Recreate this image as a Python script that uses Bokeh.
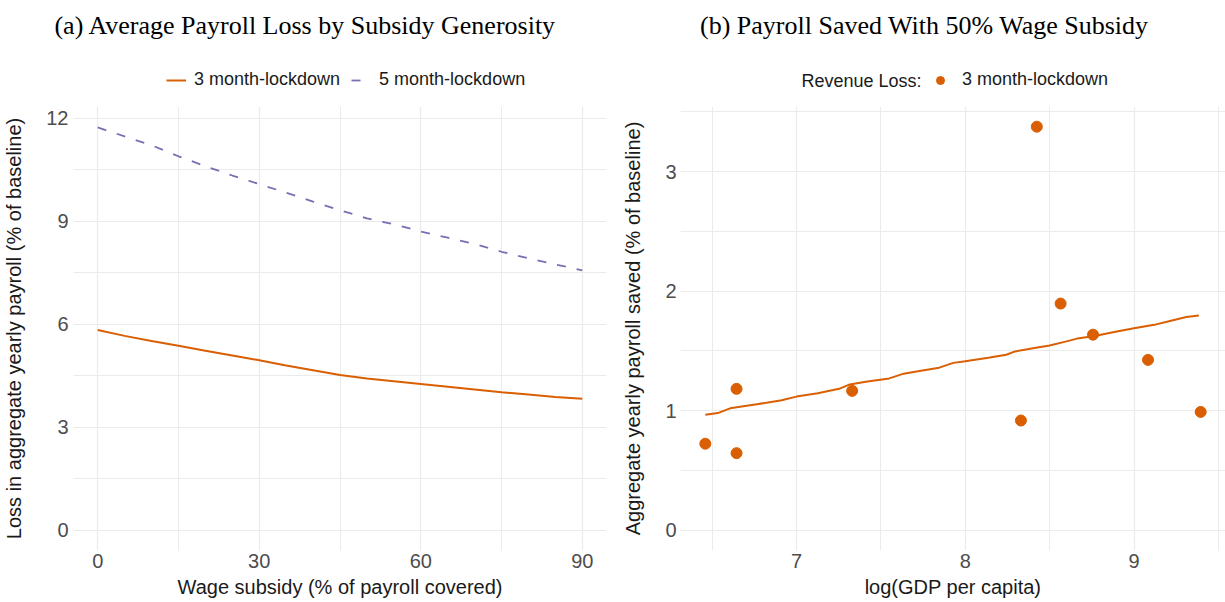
from bokeh.plotting import figure
from bokeh.layouts import row, column
from bokeh.models import FixedTicker, Legend, LegendItem, Range1d, Label
from bokeh.embed import file_html
from bokeh.resources import INLINE

# ---- Panel (a) data ----
subsidy = [0, 5, 10, 15, 20, 25, 30, 35, 40, 45, 50, 55, 60, 65, 70, 75, 80, 85, 90]
loss_3m = [5.83, 5.66, 5.51, 5.375, 5.23, 5.09, 4.95, 4.80, 4.66, 4.52, 4.42, 4.34,
           4.26, 4.18, 4.10, 4.02, 3.95, 3.88, 3.83]
loss_5m = [11.73, 11.47, 11.21, 10.89, 10.60, 10.33, 10.08, 9.83, 9.57, 9.32, 9.08, 8.91,
           8.70, 8.52, 8.34, 8.11, 7.92, 7.74, 7.57]
a_xticks = [0, 30, 60, 90]
a_xminor = [15, 45, 75]
a_yticks = [0, 3, 6, 9, 12]
a_yminor = [1.5, 4.5, 7.5, 10.5]

# ---- Panel (b) data ----
gdp_pts = [6.46, 6.645, 6.645, 7.33, 8.33, 8.424, 8.565, 8.757, 9.083, 9.395]
saved_pts = [0.724, 1.183, 0.645, 1.166, 0.918, 3.375, 1.896, 1.636, 1.425, 0.99]
gdp_line = [6.46, 6.534, 6.607, 6.765, 6.913, 7.0, 7.126, 7.253, 7.316, 7.42, 7.55, 7.635,
            7.72, 7.846, 7.93, 8.0, 8.137, 8.243, 8.296, 8.41, 8.5, 8.60, 8.663, 8.768,
            8.89, 9.0, 9.12, 9.225, 9.31, 9.384]
saved_line = [0.966, 0.98, 1.02, 1.054, 1.087, 1.118, 1.146, 1.183, 1.22, 1.245, 1.27, 1.31,
              1.33, 1.36, 1.40, 1.414, 1.442, 1.468, 1.496, 1.524, 1.546, 1.58, 1.603, 1.625,
              1.66, 1.69, 1.718, 1.755, 1.783, 1.797]
b_xticks = [7, 8, 9]
b_xminor = [6.5, 7.5, 8.5, 9.5]
b_yticks = [0, 1, 2, 3]
b_yminor = [0.5, 1.5, 2.5, 3.5]

title_a = "(a) Average Payroll Loss by Subsidy Generosity"
title_b = "(b) Payroll Saved With 50% Wage Subsidy"
series_labels = ["3 month-lockdown", "5 month-lockdown"]
legend_b_title = "Revenue Loss:"

ORANGE = "#D95F02"
PURPLE = "#7570B3"
SANS = "Liberation Sans"
SERIF = "Liberation Serif"
GRID = "#EBEBEB"
TXT = "#1A1A1A"
DASH = "9 11"

W = 1225
HEAD_H = 100
PLOT_H = 602 - HEAD_H


def style(p, xt, xm, yt, ym, xlabel, ylabel):
    p.xaxis.ticker = FixedTicker(ticks=xt, minor_ticks=xm)
    p.yaxis.ticker = FixedTicker(ticks=yt, minor_ticks=ym)
    for ax in (p.xaxis[0], p.yaxis[0]):
        ax.axis_line_color = None
        ax.major_tick_line_color = None
        ax.minor_tick_line_color = None
        ax.major_tick_out = 0
        ax.major_tick_in = 0
        ax.minor_tick_out = 0
        ax.minor_tick_in = 0
        ax.major_label_text_font = SANS
        ax.major_label_text_font_size = "20px"
        ax.major_label_text_color = "#4D4D4D"
        ax.axis_label_text_font = SANS
        ax.axis_label_text_font_size = "20px"
        ax.axis_label_text_font_style = "normal"
        ax.axis_label_text_color = TXT
    p.xaxis.axis_label = xlabel
    p.yaxis.axis_label = ylabel
    p.xaxis.major_label_standoff = 3
    p.xaxis.axis_label_standoff = 5
    p.yaxis.axis_label_standoff = 18
    for g in (p.xgrid[0], p.ygrid[0]):
        g.grid_line_color = GRID
        g.grid_line_width = 1.2
        g.minor_grid_line_color = GRID
        g.minor_grid_line_width = 1
    p.outline_line_color = None
    p.background_fill_color = "white"
    p.border_fill_color = "white"


# ---- Header: panel titles and legends ----
head = figure(width=W, height=HEAD_H, output_backend="svg", toolbar_location=None,
              x_range=Range1d(0, W), y_range=Range1d(0, HEAD_H),
              x_axis_location=None, y_axis_location=None,
              min_border_left=0, min_border_right=0, min_border_top=0, min_border_bottom=0)
head.xgrid.visible = False
head.ygrid.visible = False
head.outline_line_color = None
head.background_fill_color = "white"
head.border_fill_color = "white"
# ranges that keep the legend-key renderers out of view (they only style the legend keys)
head.extra_x_ranges = {"a": Range1d(-4.5, 94.5), "b": Range1d(6.313, 9.542)}
head.extra_y_ranges = {"off": Range1d(1000, 1100)}

for txt, cx in ((title_a, 305), (title_b, 924)):
    head.add_layout(Label(x=cx, y=HEAD_H - 25, text=txt, text_font=SERIF,
                          text_font_size="26px", text_color="black",
                          text_align="center", text_baseline="middle"))

k3 = head.line(subsidy, loss_3m, x_range_name="a", y_range_name="off",
               line_color=ORANGE, line_width=2)
k5 = head.line(subsidy, loss_5m, x_range_name="a", y_range_name="off",
               line_color=PURPLE, line_width=1.8, line_dash=DASH)
kp = head.scatter(gdp_pts, saved_pts, x_range_name="b", y_range_name="off",
                  size=11, fill_color=ORANGE, line_color=ORANGE)

legend_style = dict(orientation="horizontal", label_text_font=SANS, label_text_font_size="18px",
                    label_text_color=TXT, background_fill_alpha=0, border_line_color=None,
                    glyph_width=20, glyph_height=20, padding=0, margin=0)
leg_a = Legend(items=[LegendItem(label=series_labels[0], renderers=[k3]),
                      LegendItem(label=series_labels[1], renderers=[k5])],
               location=(166, 10), spacing=11, label_standoff=8, **legend_style)
head.add_layout(leg_a, "center")

head.add_layout(Label(x=801, y=20, text=legend_b_title, text_font=SANS, text_font_size="18px",
                      text_color=TXT, text_align="left", text_baseline="middle"))
leg_b = Legend(items=[LegendItem(label=series_labels[0], renderers=[kp])],
               location=(930, 10), spacing=11, label_standoff=12, **legend_style)
head.add_layout(leg_b, "center")

# ---- Panel (a) ----
p1 = figure(width=612, height=PLOT_H, output_backend="svg", toolbar_location=None,
            x_range=Range1d(-4.5, 94.5), y_range=Range1d(-0.59, 12.34),
            min_border_left=73, min_border_right=6, min_border_top=6, min_border_bottom=52)
style(p1, a_xticks, a_xminor, a_yticks, a_yminor,
      "Wage subsidy (% of payroll covered)", "Loss in aggregate yearly payroll (% of baseline)")
p1.yaxis.major_label_standoff = 5
p1.line(subsidy, loss_3m, line_color=ORANGE, line_width=2)
p1.line(subsidy, loss_5m, line_color=PURPLE, line_width=1.8, line_dash=DASH)

# ---- Panel (b) ----
p2 = figure(width=W - 612, height=PLOT_H, output_backend="svg", toolbar_location=None,
            x_range=Range1d(6.313, 9.542), y_range=Range1d(-0.169, 3.544),
            min_border_left=68, min_border_right=0, min_border_top=6, min_border_bottom=52)
style(p2, b_xticks, b_xminor, b_yticks, b_yminor,
      "log(GDP per capita)", "Aggregate yearly payroll saved (% of baseline)")
p2.yaxis.major_label_standoff = 4
p2.line(gdp_line, saved_line, line_color=ORANGE, line_width=2)
p2.scatter(gdp_pts, saved_pts, size=11, fill_color=ORANGE, line_color=ORANGE)

layout = column(head, row(p1, p2))
open("out.html", "w").write(file_html(layout, INLINE))
